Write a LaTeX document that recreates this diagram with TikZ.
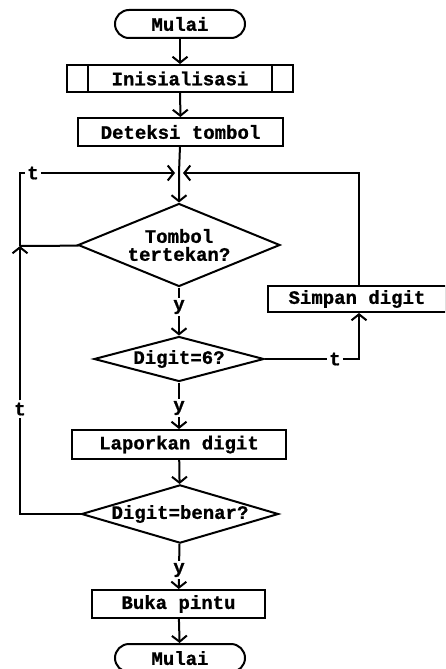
\documentclass[tikz,border=0pt]{standalone}
\usepackage{fontspec}
\setmainfont{Liberation Mono}[BoldFeatures={FakeBold=1}]
\usetikzlibrary{shapes.geometric,arrows.meta,calc}

\tikzset{
  every node/.style={font=\fontsize{19}{20}\selectfont\bfseries},
  flow/.style={line width=2pt},
  proc/.style={draw,line width=2pt,rectangle,inner sep=0pt},
  term/.style={proc,rounded corners=14pt},
  decision/.style={draw,line width=2pt,diamond,inner sep=0pt,align=center},
  lbl/.style={inner sep=2pt},
  >={Straight Barb[length=6pt,width=15pt,line width=2pt]}
}

\begin{document}
\begin{tikzpicture}[x=1pt,y=-1pt]
\useasboundingbox (0,0) rectangle (445,669);
\clip (0,0) rectangle (445,669);

% blocks
\node[term,minimum width=130,minimum height=28] (start) at (180,24) {Mulai};
\node[proc,minimum width=226,minimum height=27,
  path picture={
    \draw[line width=2pt] ([xshift=21pt]path picture bounding box.north west) -- ([xshift=21pt]path picture bounding box.south west);
    \draw[line width=2pt] ([xshift=-21pt]path picture bounding box.north east) -- ([xshift=-21pt]path picture bounding box.south east);
  }] (init) at (180,78.5) {Inisialisasi};
\node[proc,minimum width=205,minimum height=28] (detect) at (180.5,132) {Deteksi tombol};
\coordinate (J) at (179,173);
\node[decision,minimum width=202,minimum height=83,aspect=2.43] (press) at (179,245) {Tombol\\[-2pt]tertekan?};
\node[decision,minimum width=170,minimum height=45,aspect=3.78] (six) at (179,359) {Digit=6?};
\node[proc,minimum width=178,minimum height=26] (save) at (357,299) {Simpan digit};
\node[proc,minimum width=214,minimum height=29] (report) at (179,444.5) {Laporkan digit};
\node[decision,minimum width=196,minimum height=58,aspect=3.38] (ok) at (180,514) {Digit=benar?};
\node[proc,minimum width=173,minimum height=28] (open) at (178.5,604) {Buka pintu};
\node[term,minimum width=130,minimum height=28,text depth=0pt] (end) at (180,658) {Mulai};

% branch labels
\node[lbl] (y1) at (179,307) {y};
\node[lbl] (y2) at (179,408) {y};
\node[lbl] (y3) at (179,570) {y};
\node[lbl] (t2) at (335,359) {t};
\node[lbl] (tl) at (20,409) {t};
\node[lbl] (tt) at (33,173) {t};

% loop corners
\coordinate (R) at (359,359);
\coordinate (L1) at (20,173);
\coordinate (L2) at (20,246);
\coordinate (L3) at (20,514);

% main line
\draw[flow,->] (start) -- (init);
\draw[flow,->] (init) -- (detect);
\draw[flow,->] (detect) -- (J) -- (press);
\draw[flow] (press) -- (y1);
\draw[flow,->] (y1) -- (six);
\draw[flow] (six) -- (y2);
\draw[flow,->] (y2) -- (report);
\draw[flow,->] (report) -- (ok);
\draw[flow] (ok) -- (y3);
\draw[flow,->] (y3) -- (open);
\draw[flow,->] (open) -- (end);

% store the digit and go back
\draw[flow] (six) -- (t2);
\draw[flow,->] (t2) -- (R) -- (save.south -| R);
\draw[flow,->] (save.north -| R) |- ([xshift=4pt]J);

% return paths on the left
\draw[flow] (ok) -- (L3) -- (tl);
\draw[flow,->] (tl) -- (L2);
\draw[flow] (press) -- (L2);
\draw[flow] (L2) -- (L1) -- (tt);
\draw[flow,->] (tt) -- ([xshift=-4pt]J);
\end{tikzpicture}
\end{document}
